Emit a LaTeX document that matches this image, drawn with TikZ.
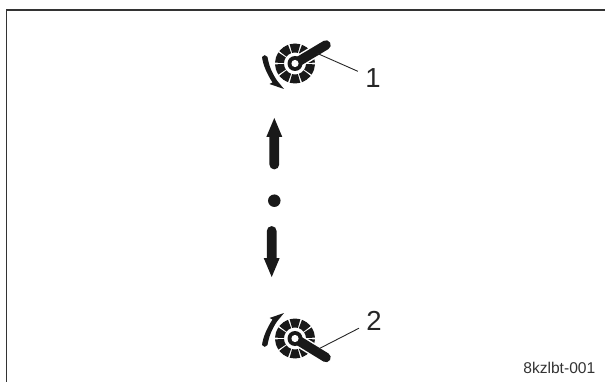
\documentclass[tikz,border=0pt]{standalone}
\usepackage{fontspec}
\setmainfont{Liberation Sans}
\usetikzlibrary{positioning,calc}

\begin{document}
\begin{tikzpicture}[x=1pt,y=-1pt]
    % Estilos
    \tikzstyle{numlabel} = [inner sep=0pt, text=black!85, font=\fontsize{27.5}{28}\selectfont]
    \tikzstyle{codelabel} = [inner sep=0pt, text=black!80, font=\fontsize{15.6}{16}\selectfont]
    \tikzstyle{leader} = [draw=black!85, line width=0.9pt, shorten >=8pt]
    \tikzstyle{frameline} = [draw=black!80, line width=1.4pt]
    \tikzstyle{solid} = [fill=black!90, draw=none]

    \useasboundingbox (0,0) rectangle (605,382);

    % --- Marco ---
    \coordinate (frame_bl) at (6.5,382);
    \coordinate (frame_tl) at (6.5,10);
    \coordinate (frame_tr) at (605,10);
    \draw [frameline] (frame_bl) -- (frame_tl) -- (frame_tr);

    % --- Platos ---
    \coordinate (gear_top) at (295,63.5);
    \coordinate (gear_bot) at (295,338.5);
    \foreach \c in {gear_top,gear_bot} {
        \foreach \a in {0,36,...,324} {
            \fill [solid] ($(\c)+(\a+2.5:20)$) arc [start angle=\a+2.5, end angle=\a+33.5, radius=20]
                -- ($(\c)+(\a+33.5:11)$) arc [start angle=\a+33.5, end angle=\a+2.5, radius=11] -- cycle;
        }
    }

    % --- Bielas ---
    \coordinate (crank_top) at (326,45);
    \coordinate (crank_bot) at (326,357.5);
    \draw [white, line width=12.5pt, line cap=round] (gear_top) -- (crank_top);
    \draw [white, line width=12.5pt, line cap=round] (gear_bot) -- (crank_bot);
    \draw [black!90, line width=9.5pt, line cap=round] (gear_top) -- (crank_top);
    \draw [black!90, line width=9.5pt, line cap=round] (gear_bot) -- (crank_bot);
    \fill [black!90] (gear_top) circle (7.5);
    \fill [black!90] (gear_bot) circle (7.5);
    \fill [white] (gear_top) circle (3.6);
    \fill [white] (gear_bot) circle (3.6);

    % --- Flechas curvas ---
    \fill [solid] (262,57) .. controls (263,54.5) and (266.5,54.5) .. (267.5,57)
        .. controls (269,66) and (272,73) .. (277,80.5)
        -- (284,89) -- (269.5,84) -- (272.5,82.5)
        .. controls (267,74) and (263,65) .. (262,57) -- cycle;
    \fill [solid] (262,345) .. controls (263,347.5) and (266.5,347.5) .. (267.5,345)
        .. controls (269,336) and (272,329) .. (277,321.5)
        -- (284,313) -- (269.5,318) -- (272.5,319.5)
        .. controls (267,328) and (263,337) .. (262,345) -- cycle;

    % --- Flechas rectas y punto ---
    \fill [solid] (274.3,118) -- (282.3,137) -- (279.2,137) -- (279.2,164.5)
        arc [start angle=0, end angle=180, radius=4.9] -- (269.4,137) -- (266.3,137) -- cycle;
    \node [circle, fill=black!90, inner sep=0pt, minimum size=12.5pt] (dot) at (274.3,200.7) {};
    \fill [solid] (271.7,277) -- (263.7,258) -- (266.8,258) -- (266.8,231)
        arc [start angle=180, end angle=360, radius=4.9] -- (276.6,258) -- (279.7,258) -- cycle;

    % --- Etiquetas y lineas guia ---
    \node [numlabel] (one) at (373,78) {1};
    \node [numlabel] (two) at (374,320.5) {2};
    \node [codelabel, anchor=east] (code) at (595.5,368) {8kzlbt-001};
    \coordinate (lead_top) at (317.5,53.5);
    \coordinate (lead_bot) at (317.5,349.5);
    \draw [leader] (lead_top) -- (one);
    \draw [leader] (lead_bot) -- (two);

\end{tikzpicture}
\end{document}
